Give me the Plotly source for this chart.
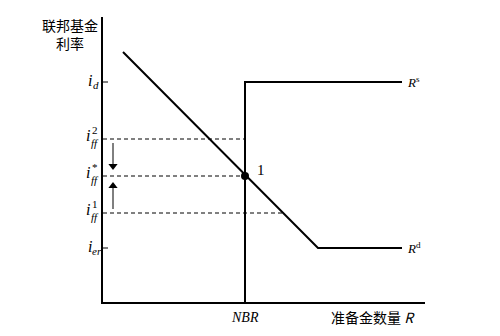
import plotly.graph_objects as go

# Data (abstract units: x = reserves quantity, y = federal funds rate)
NBR = 142
i_d = 220
i_ff2 = 163
i_ff_star = 126
i_ff1 = 89
i_er = 54

demand_x = [20, 215, 299]
demand_y = [250, 54, 54]
supply_x = [NBR, NBR, 299]
supply_y = [0, 220, 220]

x_max = 322
y_max = 285

serif = "Liberation Serif"
cjk = "Noto Sans CJK SC"

fig = go.Figure()
fig.add_trace(go.Scatter(x=demand_x, y=demand_y, mode="lines",
                         line=dict(color="black", width=2), hoverinfo="skip"))
fig.add_trace(go.Scatter(x=supply_x, y=supply_y, mode="lines",
                         line=dict(color="black", width=2), hoverinfo="skip"))

def demand_at(y):
    x0, y0, x1, y1 = demand_x[0], demand_y[0], demand_x[1], demand_y[1]
    return x0 + (y - y0) * (x1 - x0) / (y1 - y0)

for yv, xe in [(i_ff2, NBR), (i_ff_star, NBR), (i_ff1, demand_at(i_ff1))]:
    fig.add_trace(go.Scatter(x=[0, xe], y=[yv, yv], mode="lines",
                             line=dict(color="black", width=1, dash="4px,3px"), hoverinfo="skip"))

fig.add_trace(go.Scatter(x=[NBR], y=[i_ff_star], mode="markers",
                         marker=dict(color="black", size=8), hoverinfo="skip"))

# adjustment arrows (shaft + triangular head)
ax_x = 10
fig.add_trace(go.Scatter(x=[ax_x, ax_x], y=[i_ff2 - 4, i_ff_star + 10], mode="lines",
                         line=dict(color="black", width=1), hoverinfo="skip"))
fig.add_trace(go.Scatter(x=[ax_x], y=[i_ff_star + 10], mode="markers",
                         marker=dict(symbol="triangle-down", color="black", size=8), hoverinfo="skip"))
fig.add_trace(go.Scatter(x=[ax_x, ax_x], y=[i_ff1 + 4, i_ff_star - 10], mode="lines",
                         line=dict(color="black", width=1), hoverinfo="skip"))
fig.add_trace(go.Scatter(x=[ax_x], y=[i_ff_star - 10], mode="markers",
                         marker=dict(symbol="triangle-up", color="black", size=8), hoverinfo="skip"))

for yv in [i_d, i_er]:
    fig.add_shape(type="line", x0=0, x1=5, y0=yv, y1=yv, line=dict(color="black", width=1))

ann = []
def txt(x, y, t, size=13, font=serif, xanchor="center"):
    ann.append(dict(x=x / x_max, y=y / y_max, xref="paper", yref="paper", text=t,
                    showarrow=False, font=dict(family=font, size=size, color="black"),
                    xanchor=xanchor, yanchor="middle", align="center"))

lx = -12
txt(lx - 1, i_d + 2, "<i>i</i>", 16)
txt(lx + 5, i_d - 3, "<i>d</i>", 11)
for yv, sup in [(i_ff2, "2"), (i_ff_star, "*"), (i_ff1, "1")]:
    txt(lx - 3, yv + 4, "<i>i</i>", 16)
    txt(lx + 4, yv + 9, sup, 11)
    txt(lx + 4, yv - 4, "<i>ff</i>", 11)
txt(lx - 1, i_er + 2, "<i>i</i>", 16)
txt(lx + 6, i_er - 3, "<i>er</i>", 11)

txt(302, i_d, "<i>R</i><sup>s</sup>", 13, xanchor="left")
txt(302, i_er, "<i>R</i><sup>d</sup>", 13, xanchor="left")
txt(NBR + 10, i_ff_star + 6, "1", 15, xanchor="left")
txt(NBR, -15, "<i>NBR</i>", 14)
txt(270, -15, "准备金数量 <i>R</i>", 14, font=cjk)
txt(-33, 268, "联邦基金<br>利率", 14, font=cjk)

fig.update_layout(
    width=500, height=336,
    margin=dict(l=103, r=75, t=17, b=34),
    paper_bgcolor="white", plot_bgcolor="white",
    showlegend=False,
    annotations=ann,
    xaxis=dict(range=[0, x_max], showgrid=False, zeroline=False, showticklabels=False,
               ticks="", showline=True, linecolor="black", linewidth=1.5),
    yaxis=dict(range=[0, y_max], showgrid=False, zeroline=False, showticklabels=False,
               ticks="", showline=True, linecolor="black", linewidth=1.5),
)
fig.write_html("out.html")
